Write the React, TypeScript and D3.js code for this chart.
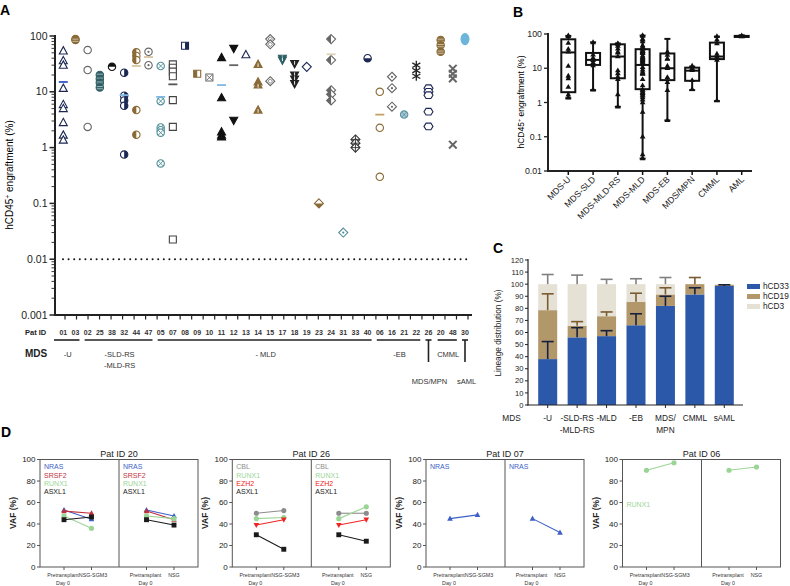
import React from 'react';
import * as d3 from 'd3';

const FONT = "'Liberation Sans', Arial, Helvetica, sans-serif";

// ---------- Panel A data ----------
const patientIds = ['01','03','02','25','38','32','44','47','05','07','08','09','10','11','12','13','14','15','17','18','19','23','24','31','33','40','06','16','21','22','26','20','48','30'];
const engraftment: number[][] = [
  [54, 36, 30, 11.5, 5.9, 5.0, 2.8, 1.67, 1.36],
  [88, 85],
  [56, 24.5, 2.35],
  [20, 17, 14.5, 12],
  [28],
  [22, 8.5, 7, 5.6, 0.75],
  [51, 44, 37, 4.7, 1.7],
  [52, 30],
  [29, 6.8, 2.3, 2.05, 1.85, 0.52],
  [31, 27, 23, 19, 7.1, 2.35, 0.0226],
  [67],
  [21],
  [18],
  [41, 7.8, 1.9, 1.67, 1.55],
  [60, 3.1],
  [46],
  [31, 15, 13.2, 4.7],
  [88, 71, 15.5],
  [40, 37],
  [32, 20, 17, 14],
  [28],
  [0.1],
  [88, 37, 10.7, 9, 7],
  [0.03],
  [1.4, 1.2, 1.0],
  [40],
  [10, 2.26, 0.3],
  [18.6, 11.6, 5.4],
  [3.9],
  [30, 24, 19],
  [11.6, 10, 8.7, 4.4, 2.4],
  [85, 68, 52],
  [26, 21, 17.4, 1.13],
  [88],
];
const patientDash: (number | null)[] = [15, null, null, null, null, 8.7, 29, 42, 8.1, 13.6, null, null, null, 13.2, 30, null, null, null, null, null, null, null, 47, null, null, null, 3.9, null, null, null, null, null, null, null];
const aTickValues = [100, 10, 1, 0.1, 0.01, 0.001];
const aTickLabels = ['100', '10', '1', '0.1', '0.01', '0.001'];
const detectionLimit = 0.01;
const mdsGroups = [
  { lines: ['-U'], from: 0, to: 1 },
  { lines: ['-SLD-RS', '-MLD-RS'], from: 2, to: 7 },
  { lines: ['- MLD'], from: 8, to: 25 },
  { lines: ['-EB'], from: 26, to: 29 },
  { lines: ['CMML'], from: 31, to: 32 },
];
const singleGroups = [
  { label: 'MDS/MPN', at: 30 },
  { label: 'sAML', at: 33 },
];

// ---------- Panel B data ----------
const boxCats = ['MDS-U', 'MDS-SLD', 'MDS-MLD-RS', 'MDS-MLD', 'MDS-EB', 'MDS/MPN', 'CMML', 'AML'];
const boxMin = [1.34, 2.3, 0.75, 0.023, 0.3, 2.3, 1.1, 80];
const boxQ1 = [2.0, 12.5, 5.1, 2.45, 4.5, 4.3, 18.5, 82];
const boxMed = [29, 17.5, 22, 12.5, 10, 8.5, 22, 85];
const boxQ3 = [70, 28, 50, 36, 27, 10.4, 56, 88];
const boxMax = [88, 57, 53, 90, 72, 11.2, 84, 92];
const patientBoxCat = [0, 0, 1, 1, 2, 2, 2, 2, 3, 3, 3, 3, 3, 3, 3, 3, 3, 3, 3, 3, 3, 3, 3, 3, 3, 3, 4, 4, 4, 4, 5, 6, 6, 7];
const bTickValues = [100, 10, 1, 0.1, 0.01];
const bTickLabels = ['100', '10', '1', '0.1', '0.01'];

// ---------- Panel C data ----------
const lineageCats = [['-U'], ['-SLD-RS', '-MLD-RS'], ['-MLD'], ['-EB'], ['MDS/', 'MPN'], ['CMML'], ['sAML']];
const cd33 = [38, 56, 57, 66, 82, 91.5, 98.5];
const cd19 = [40.5, 9.5, 16.5, 19.5, 9.5, 8.5, 1];
const cd3 = [21.5, 34.5, 26.5, 14.5, 8.5, 0, 0.5];
const cd33Err = [14.5, 8, 4.5, 9.5, 8, 5.5, 1];
const cd19Err = [13.5, 3.5, 3.5, 7, 5.5, 5.5, 0];
const cd3Err = [8, 7.5, 4, 4.5, 5.5, 0, 0];
const lineageNames = ['hCD33', 'hCD19', 'hCD3'];

// ---------- Panel D data ----------
const dTitles = ['Pat ID 20', 'Pat ID 26', 'Pat ID 07', 'Pat ID 06'];
const dGenes = [['NRAS', 'SRSF2', 'RUNX1', 'ASXL1'], ['CBL', 'RUNX1', 'EZH2', 'ASXL1'], ['NRAS'], ['RUNX1']];
const dPre = [[53, 52, 47.5, 44], [50, 45, 39, 30], [45], [90]];
const dSgm3 = [[44.5, 50, 36, 46.5], [52.5, 46, 44, 16.5], [48.5], [97]];
const dNsg = [[47.5, 44, 45, 39], [50, 56, 44, 24], [32], [93]];
const dTicks = [0, 20, 40, 60, 80, 100];

// ---------- styles ----------
const NAVY = '#1c2853';
const BROWN = '#8a6a36';
const TEAL = '#2f5f66';
const GRAY = '#666';
const BLACK = '#111';
const LTEAL = '#4f8e98';

type MStyle = { shape: string; fill: string; color: string; extra?: string };
const patientStyle: MStyle[] = [
  { shape: 'triUp', fill: 'open', color: NAVY },
  { shape: 'circle', fill: 'solid', color: BROWN, extra: 'lines' },
  { shape: 'circle', fill: 'open', color: GRAY },
  { shape: 'circle', fill: 'solid', color: TEAL, extra: 'lines' },
  { shape: 'circle', fill: 'T', color: BLACK },
  { shape: 'circle', fill: 'R', color: NAVY },
  { shape: 'circle', fill: 'L', color: BROWN },
  { shape: 'circle', fill: 'open', color: GRAY, extra: 'dot' },
  { shape: 'circle', fill: 'open', color: LTEAL, extra: 'cross' },
  { shape: 'square', fill: 'open', color: '#444' },
  { shape: 'square', fill: 'R', color: NAVY },
  { shape: 'square', fill: 'L', color: BROWN },
  { shape: 'square', fill: 'open', color: GRAY, extra: 'cross' },
  { shape: 'triUp', fill: 'solid', color: BLACK },
  { shape: 'triDown', fill: 'solid', color: BLACK },
  { shape: 'triUp', fill: 'open', color: NAVY },
  { shape: 'triUp', fill: 'solid', color: BROWN, extra: 'vline' },
  { shape: 'diamond', fill: 'open', color: GRAY, extra: 'inner' },
  { shape: 'triDown', fill: 'solid', color: TEAL, extra: 'vlineD' },
  { shape: 'triDown', fill: 'solid', color: '#222', extra: 'vlineD' },
  { shape: 'diamond', fill: 'open', color: NAVY },
  { shape: 'diamond', fill: 'B', color: BROWN },
  { shape: 'diamond', fill: 'L', color: GRAY },
  { shape: 'diamond', fill: 'open', color: LTEAL, extra: 'dot' },
  { shape: 'diamond', fill: 'open', color: '#333', extra: 'plus' },
  { shape: 'circle', fill: 'B', color: NAVY },
  { shape: 'circle', fill: 'open', color: BROWN },
  { shape: 'diamond', fill: 'open', color: GRAY, extra: 'dot' },
  { shape: 'circle', fill: 'soft', color: '#5a8fa0', extra: 'cross' },
  { shape: 'asterisk', fill: 'open', color: '#222' },
  { shape: 'hex', fill: 'open', color: NAVY },
  { shape: 'circle', fill: 'solid', color: BROWN, extra: 'lines' },
  { shape: 'x', fill: 'open', color: GRAY },
  { shape: 'ellipse', fill: 'solid', color: '#6cb4da' },
];
const dashColors: Record<string, string> = {
  '01': '#3456c8', '32': '#7fb8e0', '05': '#7fb8e0', '11': '#7fb8e0', '44': '#d6c6a0', '47': '#d6c6a0',
  '24': '#ddd2b8', '07': '#555', '12': '#666', '06': '#c4a064',
};
const geneColor: Record<string, string> = {
  NRAS: '#3d5fc8', SRSF2: '#c0303a', RUNX1: '#9bd595', ASXL1: '#1a1a1a', CBL: '#8c8c8c', EZH2: '#f02424',
};
const geneShape: Record<string, string> = {
  NRAS: 'triUp', SRSF2: 'triUp', RUNX1: 'circle', ASXL1: 'square', CBL: 'circle', EZH2: 'triDown',
};
const lineageColors = ['#2b58a8', '#b2976a', '#e6e1d5'];
const errColors = ['#15213f', '#7a5a30', '#808080'];

function shapePath(shape: string, s = 1): string {
  switch (shape) {
    case 'triUp': return `M0,${-4.3 * s}L${4 * s},${3 * s}L${-4 * s},${3 * s}Z`;
    case 'triDown': return `M0,${4.3 * s}L${4 * s},${-3 * s}L${-4 * s},${-3 * s}Z`;
    case 'square': return `M${-3.5 * s},${-3.5 * s}H${3.5 * s}V${3.5 * s}H${-3.5 * s}Z`;
    case 'diamond': return `M0,${-4.5 * s}L${4.5 * s},0L0,${4.5 * s}L${-4.5 * s},0Z`;
    case 'hex': return `M${-4.5 * s},0L${-2.4 * s},${-3.3 * s}H${2.4 * s}L${4.5 * s},0L${2.4 * s},${3.3 * s}H${-2.4 * s}Z`;
    case 'ellipse': return `M${-4 * s},0A${4 * s},${5.5 * s} 0 1,0 ${4 * s},0A${4 * s},${5.5 * s} 0 1,0 ${-4 * s},0Z`;
    default: { const r = 3.7 * s; return `M${-r},0A${r},${r} 0 1,0 ${r},0A${r},${r} 0 1,0 ${-r},0Z`; }
  }
}

function Marker({ st, x, y }: { st: MStyle; x: number; y: number }) {
  const { shape, fill, color, extra } = st;
  const t = `translate(${x},${y})`;
  if (shape === 'x') {
    return (
      <g transform={t} stroke={color} strokeWidth={2}>
        <line x1={-3.8} y1={-3.8} x2={3.8} y2={3.8} />
        <line x1={-3.8} y1={3.8} x2={3.8} y2={-3.8} />
      </g>
    );
  }
  if (shape === 'asterisk') {
    return (
      <g transform={t} stroke={color} strokeWidth={1.3}>
        <line x1={0} y1={-4.5} x2={0} y2={4.5} />
        <line x1={-4} y1={-2.3} x2={4} y2={2.3} />
        <line x1={-4} y1={2.3} x2={4} y2={-2.3} />
      </g>
    );
  }
  const d = shapePath(shape);
  const half = ['L', 'R', 'T', 'B'].includes(fill);
  return (
    <g transform={t}>
      <path d={d} fill={fill === 'solid' ? color : fill === 'soft' ? '#a9cbd6' : '#fff'} stroke={color} strokeWidth={1.1} />
      {half && <path d={d} fill={color} clipPath={`url(#clip${fill})`} />}
      {extra === 'dot' && <circle r={1.1} fill={color} />}
      {extra === 'cross' && (
        <g stroke={color} strokeWidth={0.9}>
          <line x1={-2.5} y1={-2.5} x2={2.5} y2={2.5} />
          <line x1={-2.5} y1={2.5} x2={2.5} y2={-2.5} />
        </g>
      )}
      {extra === 'plus' && (
        <g stroke={color} strokeWidth={0.9}>
          <line x1={-4.5} y1={0} x2={4.5} y2={0} />
          <line x1={0} y1={-4.5} x2={0} y2={4.5} />
        </g>
      )}
      {extra === 'inner' && <path d={shapePath('diamond', 0.5)} fill="none" stroke={color} strokeWidth={0.8} />}
      {extra === 'lines' && (
        <g stroke="#fff" strokeWidth={0.7} opacity={0.8}>
          <line x1={-3} y1={-0.8} x2={3} y2={-0.8} />
          <line x1={-3} y1={1.4} x2={3} y2={1.4} />
        </g>
      )}
      {extra === 'vline' && <line x1={0} y1={-1} x2={0} y2={2.6} stroke="#fff" strokeWidth={0.9} />}
      {extra === 'vlineD' && <line x1={0} y1={-2.6} x2={0} y2={1} stroke="#fff" strokeWidth={0.9} />}
    </g>
  );
}

export default function App() {
  // ----- A -----
  const yA = d3.scaleLog().domain([0.001, 100]).range([315, 36]);
  const xA = d3.scalePoint<string>().domain(patientIds).range([63.3, 465]);
  const xTicksA = d3.scaleLinear().domain([0, 35]).range([65, 468]);
  const minorA: number[] = [];
  for (let e = -3; e < 2; e++) for (let m = 2; m <= 9; m++) minorA.push(m * Math.pow(10, e));
  const px = (i: number) => xA(patientIds[i]) as number;

  // ----- B -----
  const yB = d3.scaleLog().domain([0.01, 100]).range([171, 34]);
  const xB = d3.scalePoint<string>().domain(boxCats).range([568.3, 741.7]);
  const triB = d3.symbol().type(d3.symbolTriangle).size(14)();

  // ----- C -----
  const yC = d3.scaleLinear().domain([0, 120]).range([405, 260]);
  const catKeys = lineageCats.map((c) => c.join(' '));
  const xC = d3.scalePoint<string>().domain(catKeys).range([547.7, 724.3]);
  const barW = 19;
  const stacks = cd33.map((v, i) => [[0, v], [v, v + cd19[i]], [v + cd19[i], v + cd19[i] + cd3[i]]]);
  const errs = cd33.map((_, i) => [cd33Err[i], cd19Err[i], cd3Err[i]]);

  // ----- D -----
  const dFrameX = [40, 232.3, 426, 622.5];
  const dFrameW = 158;
  const yD = d3.scaleLinear().domain([0, 100]).range([567, 459.5]);
  const dOff = d3.scalePoint<string>().domain(['pre', 'x', 'div', 'pre2', 'x2']).range([24, 134]);
  const dLabelRight = [true, true, true, false];
  const dLabelTop = [467, 467, 467, 505];
  const dxFont = 5.3;

  return (
    <svg width={790} height={586} style={{ position: 'absolute', left: 0, top: 0, background: '#fff' }} fontFamily={FONT}>
      <defs>
        <clipPath id="clipL" clipPathUnits="userSpaceOnUse"><rect x={-10} y={-10} width={10} height={20} /></clipPath>
        <clipPath id="clipR" clipPathUnits="userSpaceOnUse"><rect x={0} y={-10} width={10} height={20} /></clipPath>
        <clipPath id="clipT" clipPathUnits="userSpaceOnUse"><rect x={-10} y={-10} width={20} height={10} /></clipPath>
        <clipPath id="clipB" clipPathUnits="userSpaceOnUse"><rect x={-10} y={0} width={20} height={10} /></clipPath>
      </defs>
      <rect width={790} height={586} fill="#fff" />

      {/* ================= Panel A ================= */}
      <text x={0} y={15} fontSize={14} fontWeight="bold">A</text>
      <text transform={`translate(13,175) rotate(-90)`} textAnchor="middle" fontSize={10}>
        hCD45<tspan dy={-3.5} fontSize={6.5}>+</tspan><tspan dy={3.5}> engraftment (%)</tspan>
      </text>
      {minorA.map((v, i) => (
        <line key={'mn' + i} x1={51.5} x2={55} y1={yA(v)} y2={yA(v)} stroke="#222" strokeWidth={0.9} />
      ))}
      {aTickValues.map((v, i) => (
        <g key={'at' + i}>
          <line x1={49.5} x2={55} y1={yA(v)} y2={yA(v)} stroke="#222" strokeWidth={1.5} />
          <text x={47.5} y={yA(v)} dy="0.35em" textAnchor="end" fontSize={10.5} fill="#222">{aTickLabels[i]}</text>
        </g>
      ))}
      <line x1={55} x2={55} y1={35} y2={316} stroke="#222" strokeWidth={2} />
      <line x1={54} x2={472} y1={315} y2={315} stroke="#222" strokeWidth={2} />
      {d3.range(36).map((i) => (
        <line key={'xt' + i} x1={xTicksA(i)} x2={xTicksA(i)} y1={315} y2={319.5} stroke="#222" strokeWidth={1.2} />
      ))}
      <line x1={63} x2={471} y1={yA(detectionLimit)} y2={yA(detectionLimit)} stroke="#111" strokeWidth={2} strokeDasharray="0 5.6" strokeLinecap="round" />
      {engraftment.map((vals, i) => (
        <g key={'pa' + i}>
          {vals.map((v, j) => (
            <Marker key={j} st={patientStyle[i]} x={px(i)} y={yA(v)} />
          ))}
          {patientDash[i] != null && (
            <line x1={px(i) - 4.5} x2={px(i) + 4.5} y1={yA(patientDash[i] as number)} y2={yA(patientDash[i] as number)} stroke={dashColors[patientIds[i]] || '#888'} strokeWidth={1.8} />
          )}
        </g>
      ))}
      <text x={25} y={335} fontSize={7.5} fontWeight="bold" fill="#222">Pat ID</text>
      {patientIds.map((id) => (
        <text key={'pid' + id} x={xA(id)} y={335} fontSize={7} fontWeight="bold" textAnchor="middle" fill="#333">{id}</text>
      ))}
      <text x={25} y={357} fontSize={10} fontWeight="bold" fill="#222">MDS</text>
      {mdsGroups.map((g, i) => {
        const x0 = i === 0 ? 54 : px(g.from) - 3;
        const x1 = px(g.to) + 4;
        return (
          <g key={'mg' + i}>
            <line x1={x0} x2={x1} y1={340} y2={340} stroke="#222" strokeWidth={1.6} />
            {g.lines.map((l, k) => (
              <text key={k} x={(x0 + x1) / 2 + 1} y={357 + k * 10.5} fontSize={7.5} textAnchor="middle" fill="#333">{l}</text>
            ))}
          </g>
        );
      })}
      {singleGroups.map((g, i) => (
        <g key={'sg' + i}>
          <line x1={px(g.at) - 3} x2={px(g.at) + 3} y1={340} y2={340} stroke="#222" strokeWidth={1.6} />
          <line x1={px(g.at)} x2={px(g.at)} y1={340} y2={362} stroke="#222" strokeWidth={1.6} />
          <text x={px(g.at) + (i === 0 ? 1 : 1.5)} y={384} fontSize={7.5} textAnchor="middle" fill="#333">{g.label}</text>
        </g>
      ))}

      {/* ================= Panel B ================= */}
      <text x={513} y={17} fontSize={14} fontWeight="bold">B</text>
      <text transform={`translate(524,102) rotate(-90)`} textAnchor="middle" fontSize={8.5}>
        hCD45<tspan dy={-3} fontSize={5.5}>+</tspan><tspan dy={3}> engraftment (%)</tspan>
      </text>
      {bTickValues.map((v, i) => (
        <g key={'bt' + i}>
          <line x1={544} x2={548} y1={yB(v)} y2={yB(v)} stroke="#222" strokeWidth={1.3} />
          <text x={542} y={yB(v)} dy="0.35em" textAnchor="end" fontSize={8.8} fill="#222">{bTickLabels[i]}</text>
        </g>
      ))}
      <line x1={548} x2={548} y1={33} y2={172} stroke="#222" strokeWidth={2} />
      <line x1={547} x2={752} y1={171} y2={171} stroke="#222" strokeWidth={2} />
      {boxCats.map((c, i) => {
        const cx = xB(c) as number;
        return (
          <g key={'bx' + i}>
            <line x1={cx} x2={cx} y1={yB(boxMax[i])} y2={yB(boxMin[i])} stroke="#111" strokeWidth={2} />
            <rect x={cx - 7} width={14} y={yB(boxQ3[i])} height={Math.max(1, yB(boxQ1[i]) - yB(boxQ3[i]))} fill="#fff" stroke="#111" strokeWidth={2} />
            <line x1={cx - 7} x2={cx + 7} y1={yB(boxMed[i])} y2={yB(boxMed[i])} stroke="#111" strokeWidth={2} />
            <line x1={cx - 3} x2={cx + 3} y1={yB(boxMax[i])} y2={yB(boxMax[i])} stroke="#111" strokeWidth={2} />
            <line x1={cx - 3} x2={cx + 3} y1={yB(boxMin[i])} y2={yB(boxMin[i])} stroke="#111" strokeWidth={2} />
            <line x1={cx} x2={cx} y1={171} y2={175} stroke="#111" strokeWidth={1.5} />
            <text transform={`translate(${cx + 3},${180}) rotate(-45)`} textAnchor="end" fontSize={8.8} fill="#222">{c}</text>
          </g>
        );
      })}
      {engraftment.map((vals, i) =>
        vals.map((v, j) => (
          <path key={'bp' + i + '_' + j} d={triB as string} transform={`translate(${xB(boxCats[patientBoxCat[i]])},${yB(Math.max(v, 0.023))})`} fill="#111" />
        ))
      )}

      {/* ================= Panel C ================= */}
      <text x={493} y={253} fontSize={14} fontWeight="bold">C</text>
      <text transform={`translate(501,333) rotate(-90)`} textAnchor="middle" fontSize={8.3} fill="#222">Lineage distribution (%)</text>
      {d3.range(0, 121, 10).map((v) => (
        <g key={'ct' + v}>
          <line x1={525} x2={528} y1={yC(v)} y2={yC(v)} stroke="#222" strokeWidth={1} />
          <text x={523.5} y={yC(v)} dy="0.35em" textAnchor="end" fontSize={7.6} fill="#222">{v}</text>
        </g>
      ))}
      {stacks.map((segs, i) => {
        const cx = xC(catKeys[i]) as number;
        return (
          <g key={'cb' + i}>
            {segs.map((s, k) => (s[1] - s[0] > 0 ? (
              <rect key={k} x={cx - barW / 2} width={barW} y={yC(s[1])} height={yC(s[0]) - yC(s[1])} fill={lineageColors[k]} />
            ) : null))}
            {segs.map((s, k) => (errs[i][k] > 0 ? (
              <g key={'e' + k} stroke={errColors[k]} strokeWidth={1.6}>
                <line x1={cx} x2={cx} y1={yC(s[1])} y2={yC(s[1] + errs[i][k])} />
                <line x1={cx - 6} x2={cx + 6} y1={yC(s[1] + errs[i][k])} y2={yC(s[1] + errs[i][k])} />
              </g>
            ) : null))}
          </g>
        );
      })}
      <line x1={528} x2={528} y1={259} y2={405.5} stroke="#222" strokeWidth={1.2} />
      <line x1={527.5} x2={743} y1={405} y2={405} stroke="#222" strokeWidth={1.2} />
      {catKeys.map((k) => (
        <line key={'cxt' + k} x1={xC(k)} x2={xC(k)} y1={405} y2={408} stroke="#222" strokeWidth={1} />
      ))}
      <text x={511.5} y={421} fontSize={8.3} textAnchor="middle" fill="#222">MDS</text>
      {lineageCats.map((lines, i) => (
        <g key={'cl' + i}>
          {lines.map((l, k) => (
            <text key={k} x={xC(catKeys[i])} y={421 + k * 12} fontSize={8.3} textAnchor="middle" fill="#222">{l}</text>
          ))}
        </g>
      ))}
      {lineageNames.map((n, i) => (
        <g key={'lg' + n}>
          <rect x={747} y={284 + i * 10} width={13} height={5} fill={lineageColors[i]} />
          <text x={763} y={286.5 + i * 10} dy="0.35em" fontSize={8.3} fill="#222">{n}</text>
        </g>
      ))}

      {/* ================= Panel D ================= */}
      <text x={1} y={437} fontSize={14} fontWeight="bold">D</text>
      {dTitles.map((title, p) => {
        const x0 = dFrameX[p];
        const xp = (k: string) => x0 + (dOff(k) as number);
        const divX = xp('div');
        return (
          <g key={'dp' + p}>
            <text x={divX} y={457} fontSize={9} textAnchor="middle" fill="#222">{title}</text>
            <rect x={x0} y={yD(100)} width={dFrameW} height={yD(0) - yD(100)} fill="none" stroke="#555" strokeWidth={1} />
            <line x1={divX} x2={divX} y1={yD(100)} y2={yD(0)} stroke="#555" strokeWidth={1} />
            {dTicks.map((v) => (
              <g key={'dt' + v}>
                <line x1={x0 - 3} x2={x0} y1={yD(v)} y2={yD(v)} stroke="#555" strokeWidth={1} />
                <text x={x0 - 4.5} y={yD(v)} dy="0.35em" textAnchor="end" fontSize={8} fill="#222">{v}</text>
              </g>
            ))}
            <text transform={`translate(${x0 - 24},513) rotate(-90)`} textAnchor="middle" fontSize={8.5} fontWeight="bold" fill="#222">VAF (%)</text>
            {(['pre', 'x', 'pre2', 'x2']).map((k) => (
              <line key={'dx' + k} x1={xp(k)} x2={xp(k)} y1={yD(0)} y2={yD(0) + 3} stroke="#555" strokeWidth={1} />
            ))}
            {(['pre', 'pre2']).map((k) => (
              <g key={'dl' + k}>
                <text x={xp(k) - 1} y={577} fontSize={dxFont} textAnchor="middle" fill="#333">Pretransplant</text>
                <text x={xp(k) - 1} y={584.5} fontSize={dxFont} textAnchor="middle" fill="#333">Day 0</text>
              </g>
            ))}
            <text x={xp('x') + 1.5} y={577} fontSize={dxFont} textAnchor="middle" fill="#333">NSG-SGM3</text>
            <text x={xp('x2')} y={577} fontSize={dxFont} textAnchor="middle" fill="#333">NSG</text>
            {dGenes[p].map((g, gi) => (
              <g key={'dg' + g}>
                <text x={x0 + 4} y={dLabelTop[p] + gi * 8.3} dy="0.35em" fontSize={7} fill={geneColor[g]}>{g}</text>
                {dLabelRight[p] && (
                  <text x={divX + 4} y={dLabelTop[p] + gi * 8.3} dy="0.35em" fontSize={7} fill={geneColor[g]}>{g}</text>
                )}
              </g>
            ))}
            {dGenes[p].map((g, gi) => {
              const c = geneColor[g];
              const pairs: [string, string, number, number][] = [
                ['pre', 'x', dPre[p][gi], dSgm3[p][gi]],
                ['pre2', 'x2', dPre[p][gi], dNsg[p][gi]],
              ];
              return (
                <g key={'ds' + g}>
                  {pairs.map(([ka, kb, va, vb], q) => (
                    <g key={q}>
                      <line x1={xp(ka)} x2={xp(kb)} y1={yD(va)} y2={yD(vb)} stroke={c} strokeWidth={1.1} />
                      <path d={shapePath(geneShape[g], 0.7)} transform={`translate(${xp(ka)},${yD(va)})`} fill={c} />
                      <path d={shapePath(geneShape[g], 0.7)} transform={`translate(${xp(kb)},${yD(vb)})`} fill={c} />
                    </g>
                  ))}
                </g>
              );
            })}
          </g>
        );
      })}
    </svg>
  );
}
